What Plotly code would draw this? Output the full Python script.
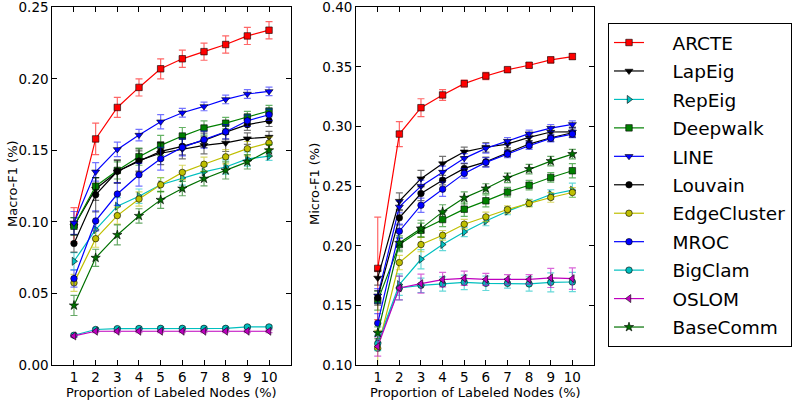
import plotly.graph_objects as go

x_vals = [1, 2, 3, 4, 5, 6, 7, 8, 9, 10]
methods = ["ARCTE", "LapEig", "RepEig", "Deepwalk", "LINE", "Louvain",
           "EdgeCluster", "MROC", "BigClam", "OSLOM", "BaseComm"]
macro_ticks = [0.00, 0.05, 0.10, 0.15, 0.20, 0.25]
micro_ticks = [0.10, 0.15, 0.20, 0.25, 0.30, 0.35, 0.40]

# Macro-F1 values
ARCTE_macro = [0.098, 0.158, 0.180, 0.194, 0.207, 0.214, 0.219, 0.224, 0.230, 0.234]
LapEig_macro = [0.097, 0.123, 0.135, 0.143, 0.148, 0.151, 0.1535, 0.1552, 0.1582, 0.1593]
RepEig_macro = [0.0725, 0.0946, 0.111, 0.118, 0.126, 0.1307, 0.135, 0.1384, 0.144, 0.146]
Deepwalk_macro = [0.097, 0.125, 0.136, 0.1456, 0.1535, 0.160, 0.1656, 0.169, 0.1733, 0.1775]
LINE_macro = [0.0993, 0.135, 0.1507, 0.1607, 0.170, 0.1763, 0.1807, 0.1856, 0.1894, 0.1912]
Louvain_macro = [0.0849, 0.119, 0.1354, 0.1426, 0.1493, 0.1528, 0.157, 0.1628, 0.168, 0.1707]
EdgeCluster_macro = [0.0574, 0.0883, 0.1044, 0.116, 0.126, 0.1346, 0.1403, 0.1455, 0.1512, 0.1552]
MROC_macro = [0.0604, 0.1007, 0.1195, 0.133, 0.1442, 0.1521, 0.1575, 0.163, 0.1707, 0.1749]
BigClam_macro = [0.0208, 0.0248, 0.0254, 0.0255, 0.0256, 0.0256, 0.0256, 0.0256, 0.0266, 0.0266]
OSLOM_macro = [0.0203, 0.0236, 0.0236, 0.0236, 0.0236, 0.0236, 0.0236, 0.0236, 0.0236, 0.0236]
BaseComm_macro = [0.0416, 0.0749, 0.0909, 0.1042, 0.1154, 0.1233, 0.1302, 0.136, 0.142, 0.150]

# Macro-F1 error bars
ARCTE_macro_err = [0.012, 0.011, 0.007, 0.006, 0.007, 0.006, 0.006, 0.006, 0.006, 0.006]
LapEig_macro_err = [0.006, 0.008, 0.008, 0.008, 0.008, 0.007, 0.006, 0.006, 0.004, 0.004]
RepEig_macro_err = [0.006, 0.006, 0.006, 0.005, 0.005, 0.005, 0.004, 0.005, 0.005, 0.003]
Deepwalk_macro_err = [0.006, 0.006, 0.006, 0.006, 0.007, 0.006, 0.005, 0.004, 0.004, 0.004]
LINE_macro_err = [0.008, 0.0065, 0.005, 0.004, 0.005, 0.003, 0.003, 0.003, 0.003, 0.003]
Louvain_macro_err = [0.006, 0.012, 0.008, 0.007, 0.006, 0.006, 0.005, 0.005, 0.004, 0.004]
EdgeCluster_macro_err = [0.006, 0.006, 0.006, 0.005, 0.005, 0.005, 0.005, 0.005, 0.005, 0.004]
MROC_macro_err = [0.006, 0.007, 0.008, 0.008, 0.008, 0.006, 0.006, 0.005, 0.004, 0.004]
BigClam_macro_err = [0.001, 0.001, 0.001, 0.001, 0.001, 0.001, 0.001, 0.001, 0.001, 0.001]
OSLOM_macro_err = [0.001, 0.001, 0.001, 0.001, 0.001, 0.001, 0.001, 0.001, 0.001, 0.001]
BaseComm_macro_err = [0.007, 0.006, 0.007, 0.005, 0.006, 0.005, 0.005, 0.006, 0.005, 0.004]

# Micro-F1 values
ARCTE_micro = [0.181, 0.2937, 0.3158, 0.3265, 0.336, 0.3424, 0.3477, 0.3514, 0.3559, 0.3587]
LapEig_micro = [0.173, 0.2374, 0.2563, 0.2689, 0.2788, 0.2826, 0.2853, 0.2909, 0.2954, 0.2955]
RepEig_micro = [0.119, 0.1674, 0.1887, 0.201, 0.2116, 0.2208, 0.229, 0.236, 0.243, 0.2466]
Deepwalk_micro = [0.154, 0.201, 0.213, 0.222, 0.2307, 0.2377, 0.245, 0.2508, 0.2573, 0.2629]
LINE_micro = [0.158, 0.2326, 0.25, 0.2618, 0.2733, 0.2817, 0.2878, 0.294, 0.2987, 0.3018]
Louvain_micro = [0.1563, 0.2234, 0.2438, 0.255, 0.2649, 0.2704, 0.278, 0.2853, 0.2906, 0.2948]
EdgeCluster_micro = [0.114, 0.1859, 0.201, 0.2088, 0.2181, 0.2242, 0.2304, 0.2355, 0.2405, 0.2447]
MROC_micro = [0.1351, 0.2122, 0.234, 0.2475, 0.2607, 0.2699, 0.2769, 0.2839, 0.2901, 0.2937]
BigClam_micro = [0.118, 0.1646, 0.1668, 0.1679, 0.1693, 0.1685, 0.1685, 0.168, 0.1693, 0.1696]
OSLOM_micro = [0.1155, 0.1646, 0.1682, 0.1716, 0.1727, 0.1718, 0.1718, 0.1718, 0.173, 0.1724]
BaseComm_micro = [0.127, 0.2024, 0.2144, 0.2284, 0.2402, 0.248, 0.257, 0.2643, 0.271, 0.2769]

# Micro-F1 error bars
ARCTE_micro_err = [0.043, 0.0105, 0.0075, 0.0045, 0.003, 0.003, 0.002, 0.002, 0.0025, 0.0025]
LapEig_micro_err = [0.006, 0.007, 0.007, 0.006, 0.004, 0.004, 0.003, 0.003, 0.003, 0.004]
RepEig_micro_err = [0.006, 0.009, 0.008, 0.005, 0.004, 0.004, 0.003, 0.003, 0.004, 0.006]
Deepwalk_micro_err = [0.008, 0.006, 0.006, 0.006, 0.006, 0.005, 0.004, 0.004, 0.004, 0.006]
LINE_micro_err = [0.006, 0.005, 0.005, 0.005, 0.004, 0.004, 0.003, 0.003, 0.003, 0.003]
Louvain_micro_err = [0.006, 0.006, 0.006, 0.004, 0.004, 0.004, 0.003, 0.003, 0.003, 0.004]
EdgeCluster_micro_err = [0.015, 0.006, 0.006, 0.004, 0.004, 0.004, 0.003, 0.003, 0.004, 0.004]
MROC_micro_err = [0.008, 0.006, 0.006, 0.006, 0.004, 0.004, 0.003, 0.003, 0.003, 0.003]
BigClam_micro_err = [0.006, 0.01, 0.006, 0.006, 0.006, 0.006, 0.004, 0.006, 0.008, 0.008]
OSLOM_micro_err = [0.008, 0.01, 0.008, 0.006, 0.006, 0.005, 0.004, 0.004, 0.008, 0.009]
BaseComm_micro_err = [0.005, 0.006, 0.007, 0.006, 0.005, 0.004, 0.004, 0.004, 0.004, 0.004]

macro = [ARCTE_macro, LapEig_macro, RepEig_macro, Deepwalk_macro, LINE_macro, Louvain_macro,
         EdgeCluster_macro, MROC_macro, BigClam_macro, OSLOM_macro, BaseComm_macro]
macro_err = [ARCTE_macro_err, LapEig_macro_err, RepEig_macro_err, Deepwalk_macro_err, LINE_macro_err,
             Louvain_macro_err, EdgeCluster_macro_err, MROC_macro_err, BigClam_macro_err,
             OSLOM_macro_err, BaseComm_macro_err]
micro = [ARCTE_micro, LapEig_micro, RepEig_micro, Deepwalk_micro, LINE_micro, Louvain_micro,
         EdgeCluster_micro, MROC_micro, BigClam_micro, OSLOM_micro, BaseComm_micro]
micro_err = [ARCTE_micro_err, LapEig_micro_err, RepEig_micro_err, Deepwalk_micro_err, LINE_micro_err,
             Louvain_micro_err, EdgeCluster_micro_err, MROC_micro_err, BigClam_micro_err,
             OSLOM_micro_err, BaseComm_micro_err]

colors = ["#FF0000", "#000000", "#00BFBF", "#008000", "#0000FF", "#000000",
          "#BFBF00", "#0000FF", "#00BFBF", "#BF00BF", "#007000"]
err_colors = ["rgba(255,0,0,0.6)", "rgba(0,0,0,0.55)", "rgba(0,191,191,0.6)", "rgba(0,128,0,0.6)",
              "rgba(0,0,255,0.55)", "rgba(0,0,0,0.55)", "rgba(191,191,0,0.6)", "rgba(0,0,255,0.55)",
              "rgba(0,191,191,0.6)", "rgba(191,0,191,0.6)", "rgba(0,112,0,0.6)"]
symbols = ["square", "triangle-down", "triangle-right", "square", "triangle-down", "circle",
           "circle", "circle", "circle", "triangle-left", "star"]
sizes = [6.5, 7, 7, 6.5, 7, 6.5, 6.5, 6.5, 6.5, 7, 7]

FONT = "DejaVu Sans"
fig = go.Figure()

for i, name in enumerate(methods):
    for vals, errs, xa, ya, show in [(macro[i], macro_err[i], "x", "y", True),
                                     (micro[i], micro_err[i], "x2", "y2", False)]:
        fig.add_trace(go.Scatter(
            x=x_vals, y=vals, xaxis=xa, yaxis=ya,
            mode="lines+markers",
            name="\u00a0\u00a0\u00a0\u00a0" + name,
            legendgroup=name,
            showlegend=show,
            line=dict(color=colors[i], width=1.2),
            marker=dict(symbol=symbols[i], size=sizes[i], color=colors[i],
                        line=dict(color="black", width=0.6)),
            error_y=dict(type="data", array=errs, visible=True, color=err_colors[i],
                         thickness=1.2, width=3.5),
        ))

axis_common = dict(
    showline=True, linecolor="black", linewidth=1, mirror="allticks",
    ticks="inside", ticklen=5, tickcolor="black", showgrid=False, zeroline=False,
    automargin=False, ticklabeloverflow="allow",
    tickfont=dict(family=FONT, size=13.5, color="black"),
)
y_dom = [1 - 365 / 402, 1 - 7.3 / 402]

fig.update_layout(
    width=800, height=402,
    margin=dict(l=0, r=0, t=0, b=0, autoexpand=False),
    paper_bgcolor="white", plot_bgcolor="white",
    font=dict(family=FONT, color="black"),
    xaxis=dict(domain=[52.3 / 800, 290.7 / 800], range=[0, 11], tickvals=x_vals,
               **axis_common),
    yaxis=dict(domain=y_dom, range=[0, 0.25], tickvals=macro_ticks,
               ticktext=["%.2f" % v for v in macro_ticks], **axis_common),
    xaxis2=dict(domain=[356.1 / 800, 594 / 800], range=[0, 11], tickvals=x_vals,
                anchor="y2", **axis_common),
    yaxis2=dict(domain=y_dom, range=[0.1, 0.4], tickvals=micro_ticks,
                ticktext=["%.2f" % v for v in micro_ticks], anchor="x2", **axis_common),
    legend=dict(
        x=608 / 800, y=1 - 23 / 402, xanchor="left", yanchor="top",
        bordercolor="black", borderwidth=1, bgcolor="white",
        font=dict(family=FONT, size=18.5, color="black"),
        tracegroupgap=1.4, itemwidth=30,
    ),
    showlegend=True,
    annotations=[
        dict(text="Macro-F1 (%)", x=12 / 800, y=1 - 184 / 402, xref="paper", yref="paper",
             xanchor="center", yanchor="middle",
             textangle=-90, showarrow=False, font=dict(family=FONT, size=13)),
        dict(text="Micro-F1 (%)", x=314 / 800, y=1 - 184 / 402, xref="paper", yref="paper",
             xanchor="center", yanchor="middle",
             textangle=-90, showarrow=False, font=dict(family=FONT, size=13)),
        dict(text="Proportion of Labeled Nodes (%)", x=171.5 / 800, y=1 - 392 / 402,
             xref="paper", yref="paper", xanchor="center", yanchor="middle",
             showarrow=False, font=dict(family=FONT, size=13)),
        dict(text="Proportion of Labeled Nodes (%)", x=475 / 800, y=1 - 392 / 402,
             xref="paper", yref="paper", xanchor="center", yanchor="middle",
             showarrow=False, font=dict(family=FONT, size=13)),
    ],
)

fig.write_html("out.html", config={"displayModeBar": False},
               post_script="document.body.style.margin='0px';document.body.style.padding='0px';")
